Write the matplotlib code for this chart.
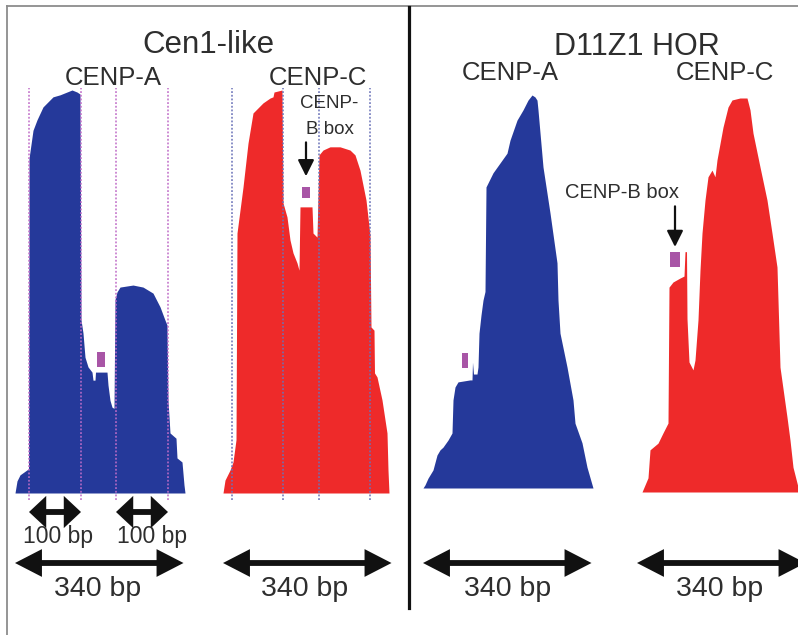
import numpy as np
import matplotlib.pyplot as plt
import matplotlib.transforms as mtransforms
from matplotlib.patches import Rectangle
from matplotlib.lines import Line2D

plt.rcParams['font.family'] = ['Liberation Sans', 'DejaVu Sans']

# ── data: read-coverage profiles over one 340 bp monomer (relative coverage, %) ──
cen1_a_bp  = [0, 4, 10, 27, 28, 36, 44, 56, 76, 90, 104, 114, 124, 130, 132, 136, 140, 146, 154, 156,
              160, 161, 184, 186, 190, 194, 198, 200, 204, 210, 236, 256, 276, 290, 300, 304, 306, 310,
              322, 324, 334, 338, 340]
cen1_a_cov = [0, 3, 4.5, 6, 83, 90, 92.6, 95.8, 98.3, 98.8, 99.5, 100, 99.5, 99, 43, 39.7, 33.7, 31.3, 30, 28,
              28, 30, 30, 26.8, 23, 21.3, 21, 48, 49.9, 51.1, 51.6, 51.1, 49.6, 46.2, 42.9, 41.7, 23, 14.9,
              13.6, 8.7, 7.7, 2, 0]

cen1_c_bp  = [0, 4, 14, 20, 26, 28, 40, 50, 60, 80, 94, 100, 102, 118, 120, 128, 134, 140, 148, 152,
              154, 178, 180, 188, 192, 200, 214, 234, 254, 264, 274, 286, 294, 296, 302, 303, 308, 318,
              328, 330, 332]
cen1_c_cov = [0, 3.2, 5.7, 7.7, 13.2, 64.5, 75.9, 86.8, 94.3, 96.8, 98, 98.3, 99.5, 100, 72, 68.5, 62.8, 59.6,
              57.1, 55.3, 71, 71, 64.5, 63.5, 83.9, 85.1, 85.9, 85.9, 85.1, 83.9, 80.1, 72.7, 64, 41.2, 40.4,
              29.8, 28.8, 23.1, 14.9, 5.7, 0]

d11_a_bp  = [0, 4, 10, 20, 28, 34, 40, 50, 58, 60, 64, 70, 94, 98, 99, 101, 108, 110, 112, 116, 120, 124,
             126, 140, 154, 168, 174, 188, 200, 210, 218, 224, 228, 230, 240, 254, 268, 270, 274, 288, 300,
             304, 318, 328, 340]
d11_a_cov = [0, 0.8, 2.5, 4.6, 8.4, 9.7, 10.4, 12.2, 14, 22.4, 25.7, 27, 27.5, 27.5, 32, 29, 29, 30.8, 39.4,
             44, 47.8, 50, 76.6, 80.2, 82.7, 85.2, 88.5, 93.6, 96.2, 98.7, 100, 99.5, 98.7, 96.2, 81.7, 70,
             57.3, 47.8, 39.4, 30.8, 22.4, 16.5, 11.5, 5.3, 0]

d11_c_bp  = [10, 16, 22, 26, 42, 52, 62, 64, 72, 86, 94, 96, 99, 100, 104, 112, 116, 122, 126, 130, 136,
             142, 150, 156, 160, 172, 182, 190, 206, 220, 226, 232, 246, 260, 270, 280, 282, 286, 300, 306,
             312, 322, 326]
d11_c_cov = [0, 1.8, 3.6, 10.7, 12.4, 15, 17.5, 52, 53.3, 54.3, 54.8, 61, 61, 44, 33, 31, 33.5, 43.7, 56.3,
             65.7, 74.1, 80, 81.7, 80, 84.3, 92.6, 97.7, 99.5, 100, 100, 97, 91.1, 82.5, 74.1, 65.7, 57.1,
             48.7, 31.7, 19, 13.2, 6.3, 1.3, 0]

# CENP-B box: (start bp, end bp, lower cov, upper cov)
box_cen1_a = (164, 180, 31.3, 35.0)
box_cen1_c = (158, 174, 73.2, 75.9)
box_d11_a  = (78, 90, 30.5, 34.4)
box_d11_c  = (66, 86, 57.1, 60.9)

# dotted boundaries of the 100 bp sub-repeats (bp)
cen1_a_marks = [28, 132, 202, 306]
cen1_c_marks = [18, 120, 192, 294]

BLUE, RED, MAG = "#25399A", "#EE2A2A", "#A855A6"
TXT = "#2E2E2E"
INK = "#111111"

W, H = 798, 635
fig = plt.figure(figsize=(W / 100, H / 100), dpi=100)
fig.patch.set_facecolor("white")

def fx(x): return x / W
def fy(y): return 1 - y / H

def panel(x0, x1, top, base):
    ax = fig.add_axes([fx(x0), fy(base), (x1 - x0) / W, (base - top) / H])
    ax.set_xlim(0, 340); ax.set_ylim(0, 100); ax.axis("off")
    return ax

def span_arrow(ax, a, b, y, hl, hw, shaft):
    # thick shaft + two filled triangular heads
    trans = mtransforms.blended_transform_factory(ax.transData, fig.transFigure)
    pad = (b - a) * 0.15
    ax.plot([a + pad, b - pad], [fy(y), fy(y)], transform=trans, color=INK, lw=shaft,
            solid_capstyle="butt", clip_on=False)
    mid = (a + b) / 2
    for end in (a, b):
        ax.annotate("", xy=(end, fy(y)), xytext=(mid, fy(y)),
                    xycoords=("data", "figure fraction"), textcoords=("data", "figure fraction"),
                    arrowprops=dict(arrowstyle=f"-|>,head_length={hl},head_width={hw}",
                                    mutation_scale=20, lw=0, color=INK,
                                    shrinkA=0, shrinkB=0),
                    annotation_clip=False)

def add_box(ax, box):
    ax.add_patch(Rectangle((box[0], box[2]), box[1] - box[0], box[3] - box[2],
                           color=MAG, lw=0, zorder=3))

ax1 = panel(15, 185, 90, 493)
ax2 = panel(223, 393, 90, 493)
ax3 = panel(423, 593, 95, 488)
ax4 = panel(637, 807, 98, 492)

for ax, bp, cov, col, box in [(ax1, cen1_a_bp, cen1_a_cov, BLUE, box_cen1_a),
                              (ax2, cen1_c_bp, cen1_c_cov, RED, box_cen1_c),
                              (ax3, d11_a_bp, d11_a_cov, BLUE, box_d11_a),
                              (ax4, d11_c_bp, d11_c_cov, RED, box_d11_c)]:
    ax.fill_between(bp, 0, cov, color=col, lw=0, zorder=2)
    add_box(ax, box)

ax1.vlines(cen1_a_marks, -1.8, 100.5, colors="#C06CC8", lw=1.1, ls=(0, (1.2, 1.2)),
           clip_on=False, zorder=4)
ax2.vlines(cen1_c_marks, -1.8, 100.5, colors="#6A72B8", lw=1.1, ls=(0, (1.2, 1.2)),
           clip_on=False, zorder=4)

# arrows to CENP-B boxes
for ax, box, y0, y1 in [(ax2, box_cen1_c, 87, 78.6), (ax4, box_d11_c, 72.5, 62.2)]:
    xm = (box[0] + box[1]) / 2
    ax.annotate("", xy=(xm, y1), xytext=(xm, y0),
                arrowprops=dict(arrowstyle="-|>,head_length=0.7,head_width=0.35",
                                mutation_scale=14, lw=1.6, color=INK,
                                shrinkA=0, shrinkB=0),
                annotation_clip=False, zorder=5)

# scale arrows
span_arrow(ax1, cen1_a_marks[0], cen1_a_marks[1], 512, 0.62, 0.58, 4.2)
span_arrow(ax1, cen1_a_marks[2], cen1_a_marks[3], 512, 0.62, 0.58, 4.2)
for ax in [ax1, ax2, ax3, ax4]:
    span_arrow(ax, 0, 337, 563, 0.97, 0.5, 4.2)

# text
fig.text(fx(208), fy(45), "Cen1-like", fontsize=22.5, color=TXT, ha="center", va="center")
fig.text(fx(637), fy(47), "D11Z1 HOR", fontsize=22, color=TXT, ha="center", va="center")
for x, y, s in [(113, 78, "CENP-A"), (318, 78, "CENP-C"), (510, 73, "CENP-A"), (725, 73, "CENP-C")]:
    fig.text(fx(x), fy(y), s, fontsize=18.5, color=TXT, ha="center", va="center")
fig.text(fx(329), fy(103), "CENP-", fontsize=13.5, color=TXT, ha="center", va="center")
fig.text(fx(330), fy(130), "B box", fontsize=13.5, color=TXT, ha="center", va="center")
fig.text(fx(622), fy(192), "CENP-B box", fontsize=14.5, color=TXT, ha="center", va="center")
fig.text(fx(58), fy(537), "100 bp", fontsize=16.5, color=TXT, ha="center", va="center")
fig.text(fx(152), fy(537), "100 bp", fontsize=16.5, color=TXT, ha="center", va="center")
for x in [98, 305, 508, 720]:
    fig.text(fx(x), fy(589), "340 bp", fontsize=20.5, color=TXT, ha="center", va="center")

# frame and divider
fig.add_artist(Line2D([fx(7), 1], [fy(6), fy(6)], color="#8C8C8C", lw=1.3))
fig.add_artist(Line2D([fx(7), fx(7)], [fy(6), 0], color="#8C8C8C", lw=1.3))
fig.add_artist(Line2D([fx(409), fx(409)], [fy(7), fy(608)], color=INK, lw=2.3))

fig.savefig("out.png", dpi=100, facecolor="white")
